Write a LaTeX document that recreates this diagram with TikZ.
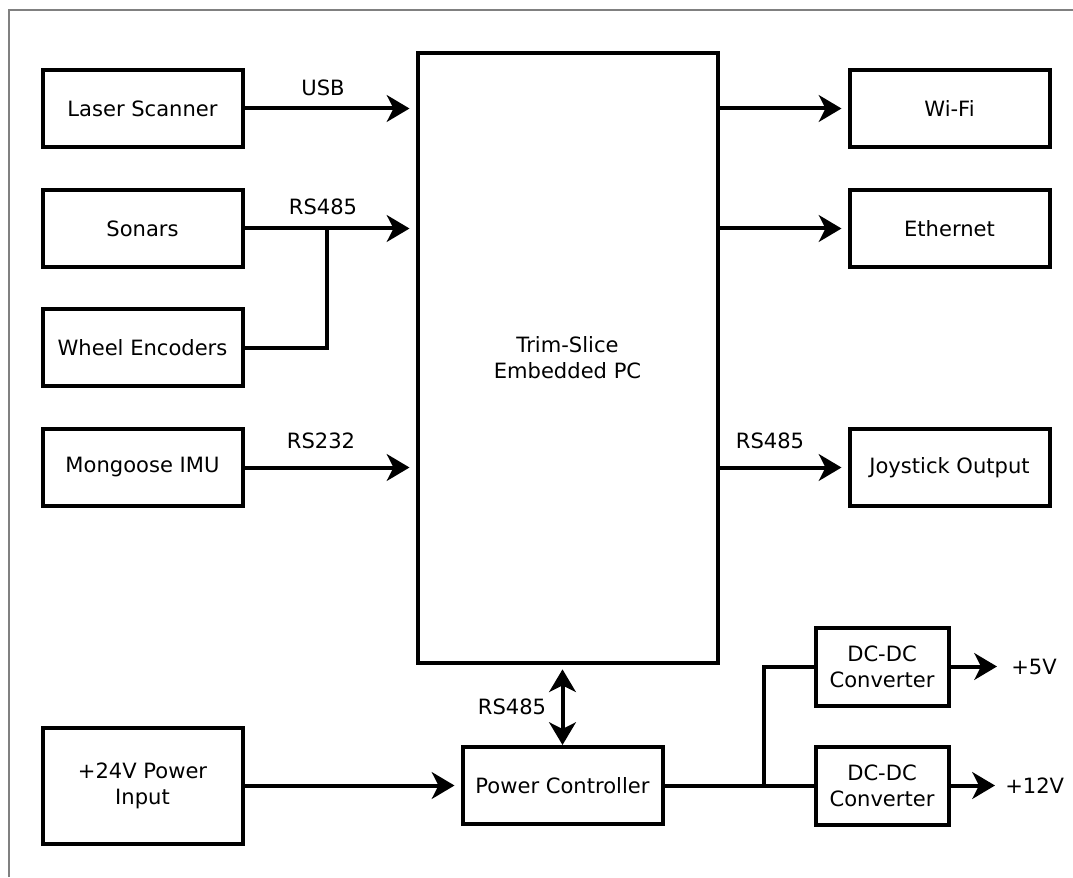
\documentclass[tikz,border=0pt]{standalone}
\usepackage{fontspec}
\setmainfont{DejaVu Sans}
\usetikzlibrary{arrows.meta,calc}
\begin{document}
\begin{tikzpicture}[x=0.75pt,y=-0.75pt,
  every node/.style={font=\fontsize{15.8}{19.5}\selectfont},
  blk/.style={draw,line width=3pt,minimum width=150pt,minimum height=57.75pt,align=center,inner sep=0pt},
  dcblk/.style={blk,minimum width=99.75pt,minimum height=58.5pt},
  wire/.style={line width=3pt},
  arr/.style={wire,-{Stealth[length=17pt,width=20pt,inset=5pt]},shorten >=4.5pt},
  darr/.style={wire,{Stealth[length=17pt,width=20pt,inset=5pt]}-{Stealth[length=17pt,width=20pt,inset=5pt]},shorten >=0pt,shorten <=3pt},
  lbl/.style={inner sep=0pt}]
\useasboundingbox (0,0) rectangle (1073,877);
\draw[line width=1.5pt,gray] (8.5,877) -- (8.5,10.5) -- (1073,10.5);

\node[blk] (laser) at (142.5,108.5) {Laser Scanner};
\node[blk] (sonars) at (142.5,228.5) {Sonars};
\node[blk] (wheel) at (142.5,347.5) {Wheel Encoders};
\node[blk] (imu) at (142.5,467.5) {Mongoose IMU};
\node[blk,minimum height=87pt] (pin) at (142.5,785.5) {+24V Power\\Input};
\node[blk,minimum width=225pt,minimum height=458pt] (pc) at (567.5,358) {Trim-Slice\\Embedded PC};
\node[blk] (wifi) at (949.5,108.5) {Wi-Fi};
\node[blk] (eth) at (949.5,228.5) {Ethernet};
\node[blk] (joy) at (949.5,467.5) {Joystick Output};
\node[blk] (pcon) at (562.5,785.5) {Power Controller};
\node[dcblk] (dc1) at (882,666.5) {DC-DC\\Converter};
\node[dcblk] (dc2) at (882,785.5) {DC-DC\\Converter};

\node[lbl] (lusb) at (323,88) {USB};
\node[lbl] (lrs1) at (323,207) {RS485};
\node[lbl] (lrs2) at (321,441) {RS232};
\node[lbl] (lrs3) at (770,441) {RS485};
\node[lbl] (lrs4) at (512,707) {RS485};
\node[lbl,anchor=west] (v5) at (1011,666.5) {+5V};
\node[lbl,anchor=west] (v12) at (1005,785.5) {+12V};

\coordinate (j1) at (327,228.5);
\coordinate (j2) at (764,785.5);

\draw[arr] (laser.east) -- (laser.east -| pc.west);
\draw[arr] (sonars.east) -- (sonars.east -| pc.west);
\draw[wire] (wheel.east) -| (j1);
\draw[arr] (imu.east) -- (imu.east -| pc.west);
\draw[arr] (wifi.west -| pc.east) -- (wifi.west);
\draw[arr] (eth.west -| pc.east) -- (eth.west);
\draw[arr] (joy.west -| pc.east) -- (joy.west);
\draw[darr] (pcon.north |- pc.south) -- (pcon.north);
\draw[arr] (pin.east) -- (pcon.west);
\draw[wire] (pcon.east) -- (dc2.west);
\draw[wire] (j2) |- (dc1.west);
\draw[arr,shorten >=10.5pt] (dc1.east) -- (v5.west);
\draw[arr,shorten >=7.5pt] (dc2.east) -- (v12.west);
\end{tikzpicture}
\end{document}
